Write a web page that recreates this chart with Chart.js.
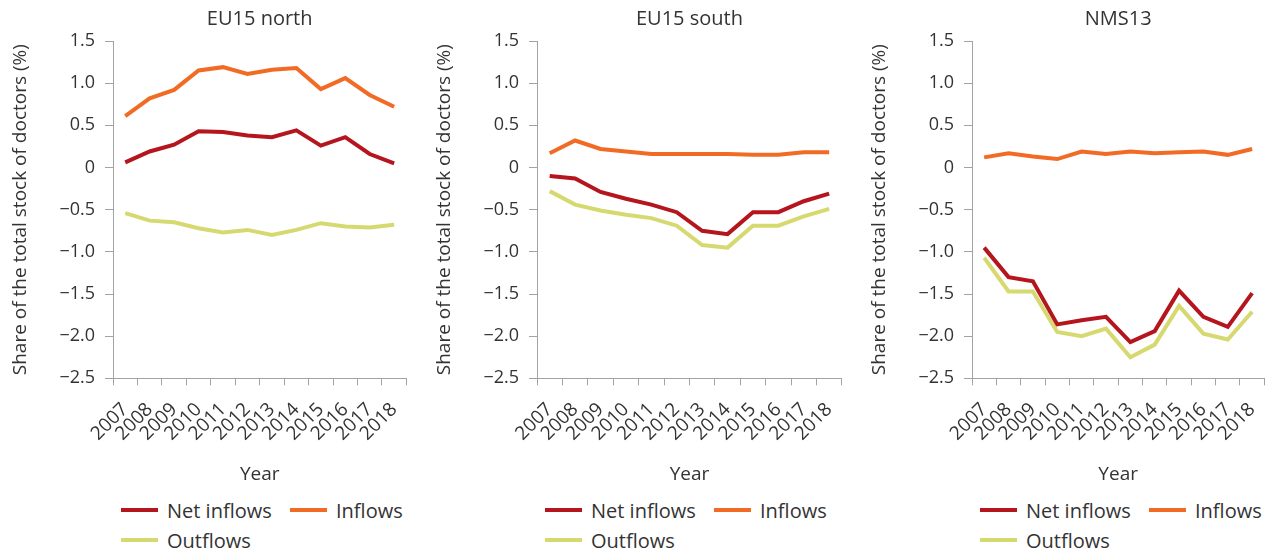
<!DOCTYPE html>
<html lang="en">
<head>
    <meta charset="UTF-8">
    <title>Doctors migration flows</title>
    <script src="https://cdn.jsdelivr.net/npm/chart.js"></script>
    <style>
        body { margin: 0; background: #fff; font-family: "Open Sans", sans-serif; color: #333; }
        #wrap { position: relative; width: 1282px; height: 550px; overflow: hidden; }
        canvas { position: absolute; top: 0; }
        .legend { position: absolute; font-size: 20px; color: #333; }
        .item { position: absolute; white-space: nowrap; display: flex; align-items: center; height: 24px; }
        .item span.line { display: inline-block; width: 37px; height: 4px; margin-right: 9px; }
    </style>
</head>
<body>
    <div id="wrap">
        <canvas id="c0" width="424" height="490" style="left:0px"></canvas>
        <canvas id="c1" width="435" height="490" style="left:424px"></canvas>
        <canvas id="c2" width="423" height="490" style="left:859px"></canvas>
    </div>

    <script>
        const years = ['2007', '2008', '2009', '2010', '2011', '2012', '2013', '2014', '2015', '2016', '2017', '2018'];
        const yTicks = [1.5, 1.0, 0.5, 0, -0.5, -1.0, -1.5, -2.0, -2.5];

        const seriesNames = ['Net inflows', 'Inflows', 'Outflows'];
        const seriesColors = ['#b5161e', '#f26b25', '#d6d96f'];

        const panelTitles = ['EU15 north', 'EU15 south', 'NMS13'];

        const northNet = [0.06, 0.19, 0.27, 0.43, 0.42, 0.38, 0.36, 0.44, 0.26, 0.36, 0.16, 0.05];
        const northIn = [0.61, 0.82, 0.92, 1.15, 1.19, 1.11, 1.16, 1.18, 0.93, 1.06, 0.86, 0.72];
        const northOut = [-0.54, -0.63, -0.65, -0.72, -0.77, -0.74, -0.80, -0.74, -0.66, -0.70, -0.71, -0.68];

        const southNet = [-0.10, -0.13, -0.29, -0.37, -0.44, -0.53, -0.75, -0.79, -0.53, -0.53, -0.40, -0.31];
        const southIn = [0.17, 0.32, 0.22, 0.19, 0.16, 0.16, 0.16, 0.16, 0.15, 0.15, 0.18, 0.18];
        const southOut = [-0.28, -0.44, -0.51, -0.56, -0.60, -0.69, -0.92, -0.95, -0.69, -0.69, -0.58, -0.49];

        const nmsNet = [-0.95, -1.30, -1.35, -1.86, -1.81, -1.77, -2.07, -1.94, -1.46, -1.77, -1.89, -1.49];
        const nmsIn = [0.12, 0.17, 0.13, 0.10, 0.19, 0.16, 0.19, 0.17, 0.18, 0.19, 0.15, 0.22];
        const nmsOut = [-1.07, -1.47, -1.47, -1.95, -2.00, -1.91, -2.25, -2.10, -1.64, -1.97, -2.04, -1.71];

        const panelData = [
            [northNet, northIn, northOut],
            [southNet, southIn, southOut],
            [nmsNet, nmsIn, nmsOut]
        ];
        const rightPad = [14, 14, 2];
        const canvasLeft = [0, 424, 859];

        const axisGrey = '#a3a3a3';
        const textColor = '#333333';

        function fmt(v) {
            if (Math.abs(v) < 1e-9) return '0';
            return v.toFixed(1).replace('-', '\u2212');
        }

        panelData.forEach((data, i) => {
            new Chart(document.getElementById('c' + i), {
                type: 'line',
                data: {
                    labels: years,
                    datasets: data.map((values, k) => ({
                        label: seriesNames[k],
                        data: values,
                        borderColor: seriesColors[k],
                        backgroundColor: seriesColors[k],
                        borderWidth: 4,
                        pointRadius: 0,
                        tension: 0
                    }))
                },
                options: {
                    responsive: false,
                    animation: false,
                    layout: { padding: { top: 4, right: rightPad[i], left: 0, bottom: 4 } },
                    plugins: {
                        legend: { display: false },
                        tooltip: { enabled: false },
                        title: {
                            display: true,
                            text: panelTitles[i],
                            fullSize: false,
                            color: textColor,
                            font: { family: 'Open Sans', size: 20, weight: 'normal' },
                            padding: { top: 3, bottom: 10 }
                        }
                    },
                    scales: {
                        x: {
                            offset: true,
                            grid: { offset: true, drawOnChartArea: false, tickLength: 7, color: axisGrey },
                            border: { color: axisGrey },
                            ticks: {
                                autoSkip: false, minRotation: 45, maxRotation: 45,
                                color: textColor, padding: 13,
                                font: { family: 'Open Sans', size: 19 }
                            },
                            title: {
                                display: true, text: 'Year', color: textColor,
                                font: { family: 'Open Sans', size: 19 },
                                padding: { top: 5, bottom: 0 }
                            }
                        },
                        y: {
                            min: -2.5, max: 1.5,
                            afterBuildTicks: (scale) => { scale.ticks = yTicks.map(v => ({ value: v })); },
                            afterFit: (scale) => { scale.width = 113; },
                            grid: { drawOnChartArea: false, tickLength: 8, color: axisGrey },
                            border: { color: axisGrey },
                            ticks: {
                                color: textColor, padding: 10,
                                font: { family: 'Open Sans', size: 18 },
                                callback: (v) => fmt(v)
                            },
                            title: {
                                display: true, text: 'Share of the total stock of doctors (%)', color: textColor,
                                font: { family: 'Open Sans', size: 19 },
                                padding: { top: 9, bottom: 0 }
                            }
                        }
                    }
                }
            });

            // legend under each panel
            const lg = document.createElement('div');
            lg.className = 'legend';
            lg.style.left = (canvasLeft[i] + 121) + 'px';
            lg.style.top = '0px';
            const pos = [[0, 498], [169, 498], [0, 528]];
            seriesNames.forEach((name, k) => {
                const it = document.createElement('div');
                it.className = 'item';
                it.style.left = pos[k][0] + 'px';
                it.style.top = pos[k][1] + 'px';
                it.innerHTML = '<span class="line" style="background:' + seriesColors[k] + '"></span>' + name;
                lg.appendChild(it);
            });
            document.getElementById('wrap').appendChild(lg);
        });
    </script>
</body>
</html>
